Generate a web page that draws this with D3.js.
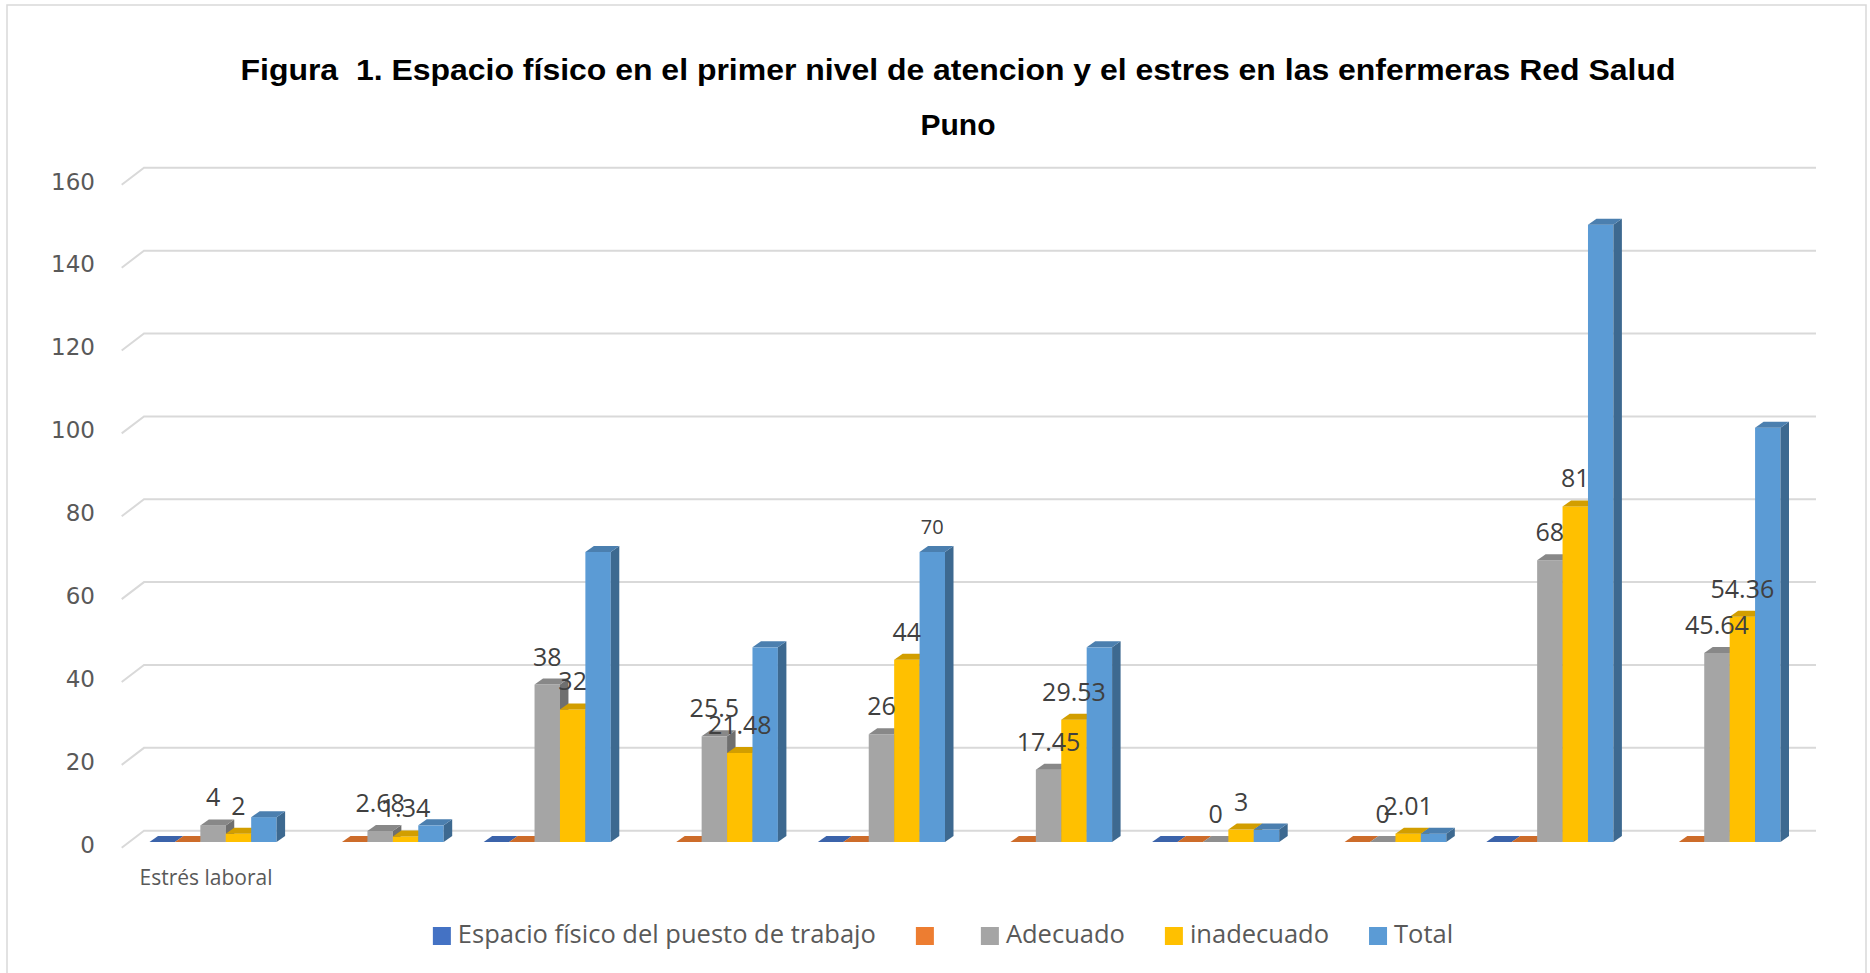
<!DOCTYPE html>
<html>
<head>
<meta charset="utf-8">
<script src="https://cdn.jsdelivr.net/npm/d3@7"></script>
<style>
  body { margin: 0; background: #fff; }
  svg { display: block; }
</style>
</head>
<body>
<div id="chart"></div>
<script>
// categories (only the first one has a label in the original)
const categories = ['Estrés laboral', '', '', '', '', '', '', '', '', ''];

const seriesNames = ['Espacio físico del puesto de trabajo', '', 'Adecuado', 'inadecuado', 'Total'];
const seriesColors = ['#4472C4', '#ED7D31', '#A5A5A5', '#FFC000', '#5B9BD5'];

// values (null = no bar drawn)
const espacio    = [0, null, 0, null, 0, null, 0, null, 0, null];
const blank      = [0, 0, 0, 0, 0, 0, 0, 0, 0, 0];
const adecuado   = [4, 2.68, 38, 25.5, 26, 17.45, 0, 0, 68, 45.64];
const inadecuado = [2, 1.34, 32, 21.48, 44, 29.53, 3, 2.01, 81, 54.36];
const total      = [6, 4.02, 70, 46.98, 70, 46.98, 3, 2.01, 149, 100];

const yTicks = [0, 20, 40, 60, 80, 100, 120, 140, 160];
const totalLabelAt = [4];   // only one Total bar carries a label

const allSeries = [espacio, blank, adecuado, inadecuado, total];

const width = 1870, height = 973;
const svg = d3.select('#chart').append('svg')
    .attr('width', width)
    .attr('height', height);

// chart border
svg.append('rect')
    .attr('x', 7).attr('y', 5)
    .attr('width', 1859).attr('height', 990)
    .style('fill', 'none')
    .style('stroke', '#D9D9D9')
    .style('stroke-width', 1.5);

// title
svg.append('text')
    .attr('x', 958).attr('y', 80)
    .attr('text-anchor', 'middle')
    .attr('textLength', 1435)
    .attr('lengthAdjust', 'spacingAndGlyphs')
    .style('white-space', 'pre')
    .style('font-family', '"Liberation Sans", Arial, sans-serif')
    .style('font-weight', 'bold')
    .style('font-size', '30px')
    .style('fill', '#000')
    .text('Figura  1. Espacio físico en el primer nivel de atencion y el estres en las enfermeras Red Salud');
svg.append('text')
    .attr('x', 958).attr('y', 135)
    .attr('text-anchor', 'middle')
    .style('font-family', '"Liberation Sans", Arial, sans-serif')
    .style('font-weight', 'bold')
    .style('font-size', '30px')
    .style('fill', '#000')
    .text('Puno');

// scales
const y = d3.scaleLinear().domain([0, 160]).range([842, 842 - 160 * 4.143]);
const x0 = d3.scaleBand().domain(d3.range(categories.length)).range([129.5, 1800.5]).padding(0);
const x1 = d3.scaleBand().domain(d3.range(seriesNames.length)).range([20, x0.bandwidth() - 20]).padding(0);

// depth of the 3D effect
const dx = 8.5, dy = -6;
// gridline back-wall offset
const gx0 = 121.7, gx1 = 144, gxEnd = 1816;

const grid = svg.append('g');
yTicks.forEach(t => {
    const yy = y(t);
    grid.append('path')
        .attr('d', `M${gx0},${yy + 5.7} L${gx1},${yy - 11.3} L${gxEnd},${yy - 11.3}`)
        .style('fill', 'none')
        .style('stroke', '#D9D9D9')
        .style('stroke-width', 2);
    grid.append('text')
        .attr('x', 95).attr('y', yy + 4)
        .attr('text-anchor', 'end')
        .attr('dominant-baseline', 'middle')
        .style('font-family', '"DejaVu Sans", sans-serif')
        .style('font-size', '23px')
        .style('fill', '#595959')
        .text(t);
});

// bars
const bars = svg.append('g');
categories.forEach((c, i) => {
    allSeries.forEach((vals, s) => {
        const v = vals[i];
        if (v === null) return;
        const col = seriesColors[s];
        const xl = x0(i) + x1(s), xr = xl + x1.bandwidth();
        const yb = y(0), yt = y(v);
        const g = bars.append('g');
        // front face
        if (v > 0) {
            g.append('rect')
                .attr('x', xl).attr('y', yt)
                .attr('width', xr - xl).attr('height', yb - yt)
                .style('fill', col);
            // side face
            g.append('path')
                .attr('d', `M${xr},${yt} L${xr + dx},${yt + dy} L${xr + dx},${yb + dy} L${xr},${yb} Z`)
                .style('fill', d3.color(col).darker(1.1));
        }
        // top face
        g.append('path')
            .attr('d', `M${xl},${yt} L${xl + dx},${yt + dy} L${xr + dx},${yt + dy} L${xr},${yt} Z`)
            .style('fill', d3.color(col).darker(v > 0 ? 0.55 : 0.4));
    });
});

// data labels (Adecuado, inadecuado and one Total)
const labels = svg.append('g')
    .style('font-family', '"Open Sans", sans-serif')
    .style('fill', '#404040')
    .attr('text-anchor', 'middle');
[2, 3].forEach(s => {
    allSeries[s].forEach((v, i) => {
        labels.append('text')
            .attr('x', x0(i) + x1(s) + x1.bandwidth() / 2)
            .attr('y', y(v) - 19)
            .style('font-size', '25px')
            .text(v);
    });
});
totalLabelAt.forEach(i => {
    labels.append('text')
        .attr('x', x0(i) + x1(4) + x1.bandwidth() / 2)
        .attr('y', y(total[i]) - 18)
        .style('font-size', '20px')
        .text(total[i]);
});

// category labels
categories.forEach((c, i) => {
    if (!c) return;
    svg.append('text')
        .attr('x', x0(i) + x0.bandwidth() / 2 - 7)
        .attr('y', 885)
        .attr('text-anchor', 'middle')
        .style('font-family', '"Open Sans", sans-serif')
        .style('font-size', '21px')
        .style('fill', '#595959')
        .text(c);
});

// legend
const legend = svg.append('g');
const sw = 18, gapText = 7, gapItem = 40;
let cx = 0;
seriesNames.forEach((name, s) => {
    const it = legend.append('g');
    it.append('rect')
        .attr('x', 0).attr('y', -sw / 2)
        .attr('width', sw).attr('height', sw)
        .style('fill', seriesColors[s]);
    const t = it.append('text')
        .attr('x', sw + gapText).attr('y', 0)
        .attr('dominant-baseline', 'middle')
        .style('font-family', '"Open Sans", sans-serif')
        .style('font-size', '25.5px')
        .style('fill', '#595959')
        .text(name);
    const w = name ? t.node().getComputedTextLength() : 0;
    it.attr('transform', `translate(${cx},0)`);
    cx += sw + gapText + w + gapItem;
});
const legendW = cx - gapItem;
legend.attr('transform', `translate(${943 - legendW / 2},936)`);
</script>
</body>
</html>
